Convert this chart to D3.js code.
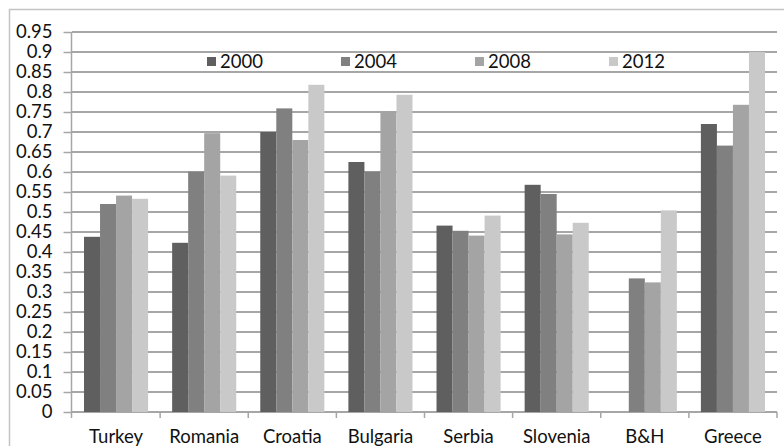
<!DOCTYPE html>
<html>
<head>
<meta charset="utf-8">
<script src="https://cdn.jsdelivr.net/npm/d3@7/dist/d3.min.js"></script>
<style>
  html, body { margin: 0; padding: 0; background: #fff; }
  svg { display: block; }
  text { font-family: Lato, "Open Sans", sans-serif; fill: #111; }
</style>
</head>
<body>
<svg id="chart" width="784" height="446"></svg>
<script>
// Countries along the x axis
const countries = ["Turkey", "Romania", "Croatia", "Bulgaria", "Serbia", "Slovenia", "B&H", "Greece"];
// Survey years (series)
const years = ["2000", "2004", "2008", "2012"];
// Index values per year, in country order (null = no data)
const values2000 = [0.438, 0.423, 0.700, 0.625, 0.466, 0.568, null, 0.720];
const values2004 = [0.520, 0.601, 0.759, 0.601, 0.453, 0.545, 0.334, 0.666];
const values2008 = [0.541, 0.697, 0.680, 0.751, 0.441, 0.444, 0.324, 0.768];
const values2012 = [0.533, 0.591, 0.818, 0.793, 0.491, 0.473, 0.504, 0.900];
// Y axis tick values
const yTicks = [0, 0.05, 0.1, 0.15, 0.2, 0.25, 0.3, 0.35, 0.4, 0.45, 0.5, 0.55, 0.6, 0.65, 0.7, 0.75, 0.8, 0.85, 0.9, 0.95];
const colors = ["#5f5f5f", "#808080", "#a4a4a4", "#c9c9c9"];

const seriesValues = [values2000, values2004, values2008, values2012];

const svg = d3.select("#chart");
const plotL = 72, plotR = 777, plotT = 32, plotB = 412;
const fontSize = "18.5px";

// outer chart frame
svg.append("rect")
  .attr("x", 9.5).attr("y", 9.5)
  .attr("width", 800).attr("height", 460)
  .attr("fill", "none").attr("stroke", "#c4c4c4").attr("stroke-width", 1.5);

const y = d3.scaleLinear().domain([0, 0.95]).range([plotB, plotT]);
const x0 = d3.scaleBand().domain(countries).range([plotL, plotR]).padding(0);
const x1 = d3.scaleBand().domain(years).range([0, x0.bandwidth()])
  .paddingInner(0).paddingOuter(0.75);

// horizontal gridlines
svg.append("g").selectAll("line").data(yTicks).join("line")
  .attr("x1", plotL).attr("x2", plotR)
  .attr("y1", d => y(d)).attr("y2", d => y(d))
  .attr("stroke", "#a6a6a6").attr("stroke-width", 1.8);

// bars
const groups = svg.append("g").selectAll("g").data(countries).join("g")
  .attr("transform", d => `translate(${x0(d)},0)`);
groups.selectAll("rect")
  .data((c, i) => years.map((yr, j) => ({ year: yr, j, v: seriesValues[j][i] })).filter(d => d.v != null))
  .join("rect")
  .attr("x", d => x1(d.year))
  .attr("width", x1.bandwidth())
  .attr("y", d => y(d.v))
  .attr("height", d => y(0) - y(d.v))
  .attr("fill", d => colors[d.j]);

// y axis
const yAxis = d3.axisLeft(y).tickValues(yTicks).tickSize(8).tickPadding(11)
  .tickFormat(d => String(+d.toFixed(2)));
const gy = svg.append("g").attr("transform", `translate(${plotL - 0.5},0)`).call(yAxis);
gy.select(".domain").remove();
gy.selectAll(".tick line").attr("stroke", "#a6a6a6").attr("stroke-width", 1.5);
gy.selectAll("text").style("font-size", fontSize).attr("fill", "#111");
svg.append("line")
  .attr("x1", plotL - 0.5).attr("x2", plotL - 0.5)
  .attr("y1", plotT).attr("y2", plotB + 6)
  .attr("stroke", "#a6a6a6").attr("stroke-width", 1.5);

// category boundary ticks
const bounds = countries.map(c => x0(c)).concat([plotR]);
svg.append("g").selectAll("line").data(bounds.slice(1)).join("line")
  .attr("x1", d => d).attr("x2", d => d)
  .attr("y1", plotB).attr("y2", plotB + 6)
  .attr("stroke", "#a6a6a6").attr("stroke-width", 1.5);

// x axis labels
const xAxis = d3.axisBottom(x0).tickSize(0).tickPadding(0);
const gx = svg.append("g").attr("transform", `translate(0,${plotB})`).call(xAxis);
gx.select(".domain").remove();
gx.selectAll("text").attr("y", 31).attr("dy", 0).style("font-size", fontSize).attr("fill", "#111");

// legend
const legendX = [207, 341, 475, 609];
const lg = svg.append("g").selectAll("g").data(years).join("g")
  .attr("transform", (d, i) => `translate(${legendX[i]},57)`);
lg.append("rect").attr("width", 9).attr("height", 9).attr("fill", (d, i) => colors[i]);
lg.append("text").attr("x", 13).attr("y", 11).style("font-size", fontSize).text(d => d);
</script>
</body>
</html>
